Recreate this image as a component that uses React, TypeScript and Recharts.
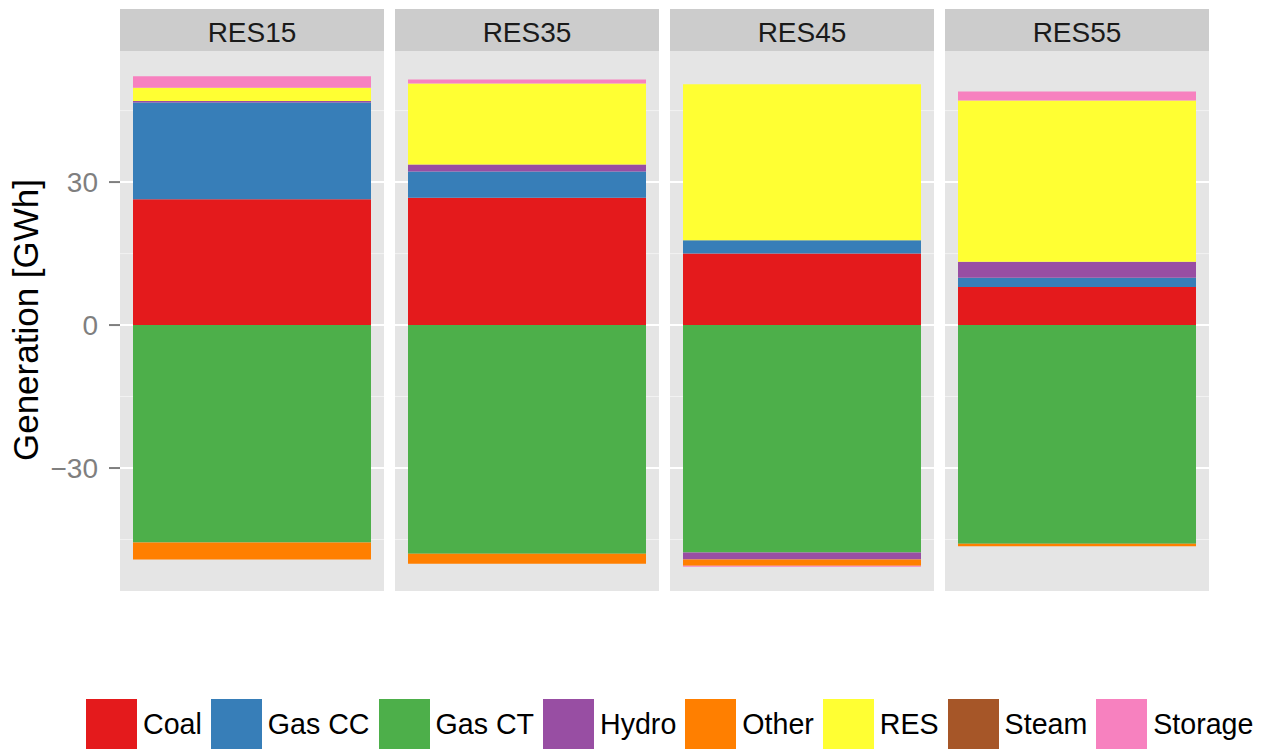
import { BarChart, Bar, XAxis, YAxis, CartesianGrid } from "recharts";

const scenarios = ["RES15", "RES35", "RES45", "RES55"];
const coal = [26.4, 26.7, 15.0, 8.0];
const gasCC = [20.3, 5.5, 2.8, 1.9];
const gasCT = [-45.6, -48.0, -47.7, -45.9];
const hydro = [0.3, 1.5, -1.5, 3.4];
const other = [-3.6, -2.1, -1.3, -0.5];
const res = [2.8, 17.0, 32.7, 33.8];
const steam = [0, 0, 0, 0];
const storage = [2.4, 0.8, -0.2, 1.9];

const yTicks = [-30, 0, 30];
const minorTicks = [-45, -15, 15, 45];

const series = [
  { key: "coal", name: "Coal", color: "#E41A1C", values: coal },
  { key: "gasCC", name: "Gas CC", color: "#377EB8", values: gasCC },
  { key: "gasCT", name: "Gas CT", color: "#4DAF4A", values: gasCT },
  { key: "hydro", name: "Hydro", color: "#984EA3", values: hydro },
  { key: "other", name: "Other", color: "#FF7F00", values: other },
  { key: "res", name: "RES", color: "#FFFF33", values: res },
  { key: "steam", name: "Steam", color: "#A65628", values: steam },
  { key: "storage", name: "Storage", color: "#F781BF", values: storage },
];

const FONT = "'Liberation Sans', Arial, Helvetica, sans-serif";
const AXIS_W = 120;
const PANEL_W = 264;
const STRIP_H = 42;
const CHART_H = 582;

const fmt = (v: number) => (v < 0 ? `\u2212${Math.abs(v)}` : `${v}`);

const StripTick = (props: any) => {
  const { x, payload } = props;
  return (
    <g>
      <rect x={x - PANEL_W / 2} y={0} width={PANEL_W} height={STRIP_H} fill="#CCCCCC" />
      <text x={x} y={33} textAnchor="middle" fontSize={28} fill="#1A1A1A" fontFamily={FONT}>
        {payload.value}
      </text>
    </g>
  );
};

const AxisTitle = () => (
  <text
    x={38}
    y={311}
    transform="rotate(-90, 38, 311)"
    textAnchor="middle"
    fontSize={35}
    fill="#000"
    fontFamily={FONT}
  >
    Generation [GWh]
  </text>
);

const Facet = ({ index }: { index: number }) => {
  const row: any = { scenario: scenarios[index] };
  series.forEach((s) => {
    row[s.key] = s.values[index];
  });
  const first = index === 0;
  const left = first ? 0 : AXIS_W + index * (PANEL_W + 11);
  return (
    <div style={{ position: "absolute", left, top: 9 }}>
      <BarChart
        width={first ? AXIS_W + PANEL_W : PANEL_W}
        height={CHART_H}
        data={[row]}
        stackOffset="sign"
        barCategoryGap={13}
        margin={{ top: 0, right: 0, bottom: 0, left: 0 }}
      >
        <CartesianGrid vertical={false} fill="#E5E5E5" fillOpacity={1} stroke="#F2F2F2" strokeWidth={1} horizontalValues={minorTicks} />
        <CartesianGrid vertical={false} stroke="#FFFFFF" strokeWidth={2} horizontalValues={yTicks} />
        <XAxis
          dataKey="scenario"
          orientation="top"
          height={STRIP_H}
          axisLine={false}
          tickLine={false}
          interval={0}
          tick={StripTick}
        />
        <YAxis
          hide={!first}
          width={AXIS_W}
          domain={[-55.8, 57.5]}
          allowDataOverflow
          ticks={yTicks}
          tickFormatter={fmt}
          axisLine={false}
          tickSize={11}
          tickMargin={11}
          tickLine={{ stroke: "#7F7F7F", strokeWidth: 2 }}
          tick={{ fontSize: 28, fill: "#7F7F7F", fontFamily: FONT }}
          label={AxisTitle}
        />
        {series.map((s) => (
          <Bar key={s.key} dataKey={s.key} name={s.name} stackId="a" fill={s.color} isAnimationActive={false} />
        ))}
      </BarChart>
    </div>
  );
};

export default function App() {
  return (
    <div
      style={{
        position: "absolute",
        left: 0,
        top: 0,
        width: 1261,
        height: 749,
        overflow: "hidden",
        background: "#fff",
        fontFamily: FONT,
      }}
    >
      {scenarios.map((_, i) => (
        <Facet key={i} index={i} />
      ))}
      <div style={{ position: "absolute", left: 86, top: 699, display: "flex", alignItems: "flex-start", whiteSpace: "nowrap" }}>
        {series.map((s) => (
          <div key={s.key} style={{ display: "flex", alignItems: "center", marginRight: 9 }}>
            <div style={{ width: 51, height: 51, background: s.color }} />
            <span style={{ marginLeft: 6, fontSize: 28.6, color: "#000", lineHeight: "51px" }}>{s.name}</span>
          </div>
        ))}
      </div>
    </div>
  );
}
